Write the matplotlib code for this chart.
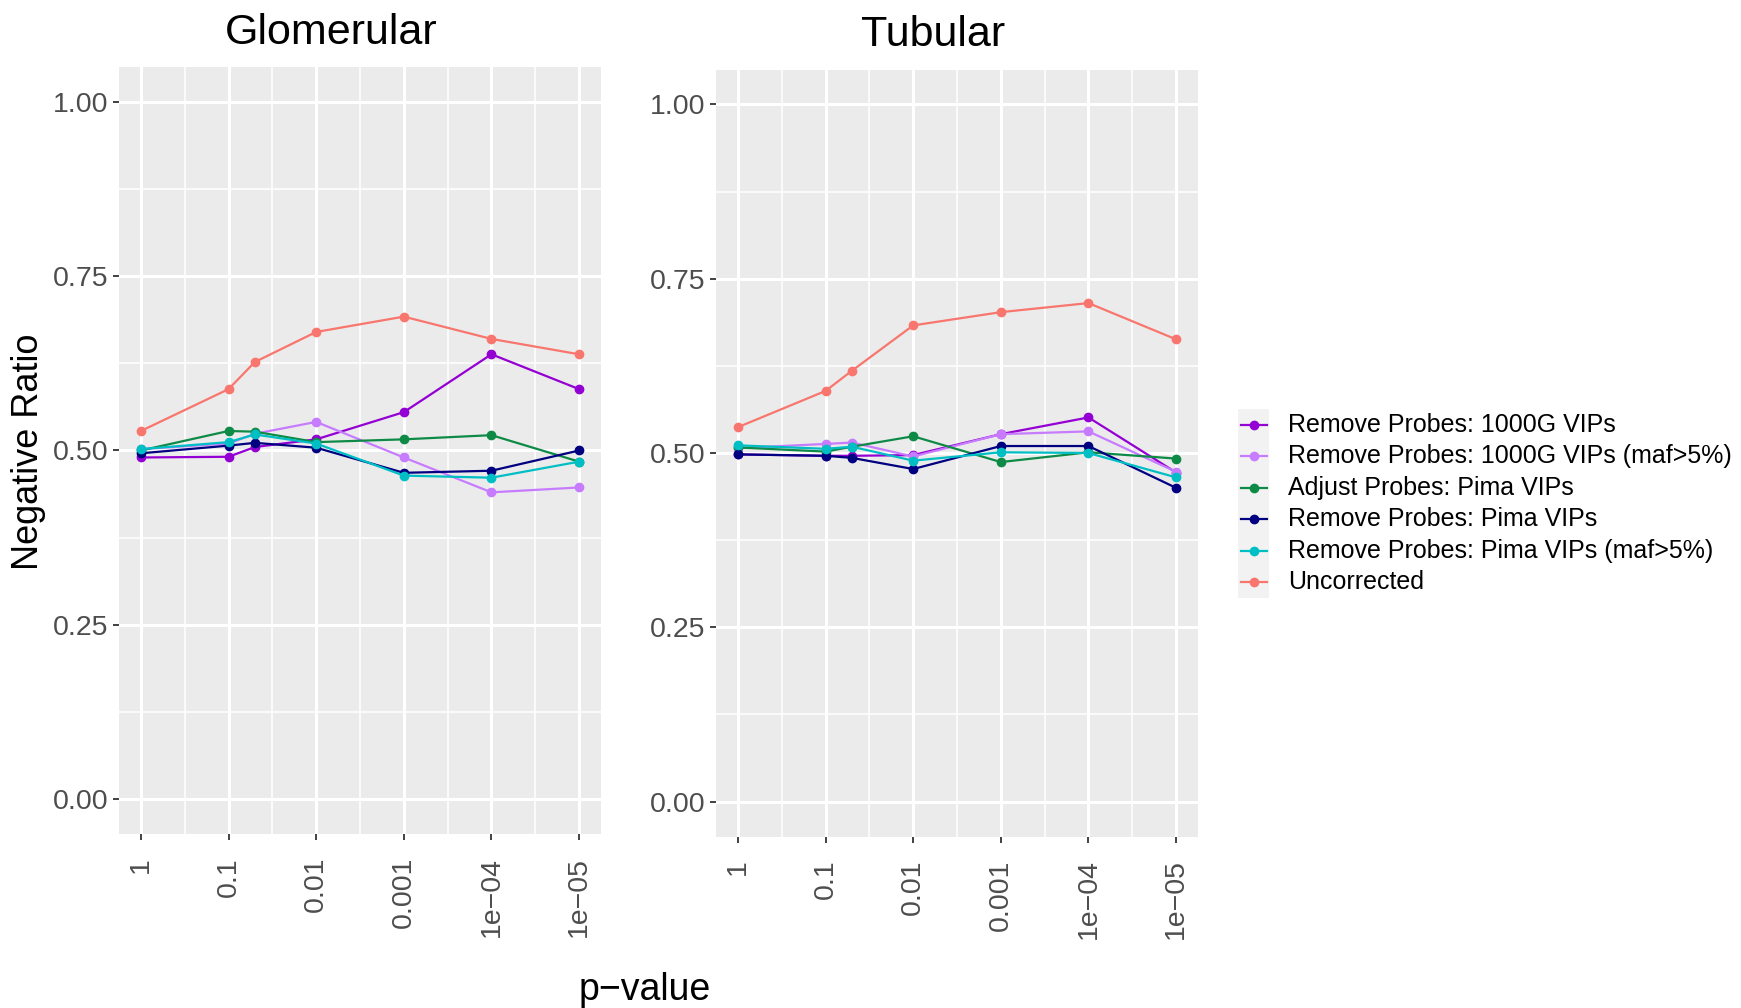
import matplotlib
matplotlib.use("Agg")
import matplotlib.pyplot as plt
from matplotlib.lines import Line2D
from matplotlib.patches import Rectangle
import numpy as np

plt.rcParams['font.family'] = ['Liberation Sans', 'DejaVu Sans']

# p-value thresholds (x axis)
pvals = [1, 0.1, 0.05, 0.01, 0.001, 1e-4, 1e-5]
xtick_vals = [1, 0.1, 0.01, 0.001, 1e-4, 1e-5]
xtick_labels = ["1", "0.1", "0.01", "0.001", "1e\u221204", "1e\u221205"]

methods = ["Remove Probes: 1000G VIPs",
           "Remove Probes: 1000G VIPs (maf>5%)",
           "Adjust Probes: Pima VIPs",
           "Remove Probes: Pima VIPs",
           "Remove Probes: Pima VIPs (maf>5%)",
           "Uncorrected"]
colors = ["#9400D3", "#C77CFF", "#0E8A47", "#000080", "#00BFC4", "#F8766D"]

# negative ratio per method, glomerular
glom_1000g = [0.490, 0.491, 0.505, 0.516, 0.555, 0.638, 0.588]
glom_1000g_maf = [0.502, 0.510, 0.524, 0.541, 0.490, 0.440, 0.447]
glom_adjust = [0.500, 0.528, 0.527, 0.512, 0.516, 0.522, 0.484]
glom_pima = [0.496, 0.507, 0.511, 0.504, 0.468, 0.471, 0.500]
glom_pima_maf = [0.502, 0.512, 0.523, 0.510, 0.464, 0.461, 0.484]
glom_uncorr = [0.528, 0.588, 0.627, 0.670, 0.692, 0.660, 0.638]

# negative ratio per method, tubular
tub_1000g = [0.498, 0.496, 0.496, 0.497, 0.527, 0.551, 0.472]
tub_1000g_maf = [0.507, 0.513, 0.515, 0.495, 0.527, 0.531, 0.473]
tub_adjust = [0.508, 0.502, 0.509, 0.524, 0.487, 0.501, 0.492]
tub_pima = [0.498, 0.496, 0.493, 0.477, 0.510, 0.510, 0.450]
tub_pima_maf = [0.511, 0.506, 0.509, 0.489, 0.501, 0.500, 0.465]
tub_uncorr = [0.537, 0.589, 0.618, 0.683, 0.702, 0.715, 0.663]

glom = [glom_1000g, glom_1000g_maf, glom_adjust, glom_pima, glom_pima_maf, glom_uncorr]
tub = [tub_1000g, tub_1000g_maf, tub_adjust, tub_pima, tub_pima_maf, tub_uncorr]

W, H = 1741, 1008
fig = plt.figure(figsize=(W / 100, H / 100), dpi=100)


def px_axes(x0, x1, ytop, ybot):
    return fig.add_axes([x0 / W, 1 - ybot / H, (x1 - x0) / W, (ybot - ytop) / H])


def style_panel(ax):
    ax.set_facecolor("#EBEBEB")
    for s in ax.spines.values():
        s.set_visible(False)
    ax.set_xscale("log")
    ax.set_xlim(10 ** 0.25, 10 ** -5.25)
    ax.set_ylim(-0.05, 1.05)
    ax.set_xticks(xtick_vals)
    ax.set_xticklabels(xtick_labels, rotation=90, va="top", ha="center")
    ax.set_xticks([10 ** (-k - 0.5) for k in range(5)], minor=True)
    ax.xaxis.set_minor_formatter(matplotlib.ticker.NullFormatter())
    ax.set_yticks([0, 0.25, 0.5, 0.75, 1.0])
    ax.set_yticklabels(["0.00", "0.25", "0.50", "0.75", "1.00"])
    ax.set_yticks([0.125, 0.375, 0.625, 0.875], minor=True)
    ax.grid(which="major", color="white", lw=2.2)
    ax.grid(which="minor", color="white", lw=1.1)
    ax.set_axisbelow(True)
    ax.tick_params(which="major", length=4.5, width=1.3, color="#333333",
                   labelsize=20.5, labelcolor="#4D4D4D")
    ax.tick_params(axis="x", which="major", pad=12)
    ax.tick_params(axis="y", which="major", pad=3)
    ax.tick_params(which="minor", length=0)


def draw_series(ax, data):
    for vals, c in zip(data, colors):
        ax.plot(pvals, vals, color=c, lw=1.6, marker="o", ms=6, mec=c, mfc=c)


ax1 = px_axes(119, 601, 67, 834)
ax2 = px_axes(716, 1198, 69.5, 836.5)
for ax, data in [(ax1, glom), (ax2, tub)]:
    style_panel(ax)
    draw_series(ax, data)

fig.text(331 / W, 1 - 33 / H, "Glomerular", ha="center", va="center", fontsize=31)
fig.text(933 / W, 1 - 35 / H, "Tubular", ha="center", va="center", fontsize=31)
fig.text(29 / W, 1 - 452 / H, "Negative Ratio", rotation=90, ha="center",
         va="center", fontsize=26)
fig.text(645 / W, 1 - 990 / H, "p\u2212value", ha="center", va="center", fontsize=27)

# legend: grey key strip with line+point keys
row_h = 31.5
top = 409
fig.add_artist(Rectangle((1238 / W, 1 - (top + 6 * row_h) / H), 31 / W, 6 * row_h / H,
                         transform=fig.transFigure, facecolor="#F2F2F2", edgecolor="none"))
for i, (name, c) in enumerate(zip(methods, colors)):
    yc = 1 - (top + row_h * (i + 0.5)) / H
    fig.add_artist(Line2D([1241 / W, 1267 / W], [yc, yc], transform=fig.transFigure,
                          color=c, lw=1.6))
    fig.add_artist(Line2D([1254 / W], [yc], transform=fig.transFigure, color=c,
                          marker="o", ms=6))
    fig.text(1288 / W, yc, name, ha="left", va="center", fontsize=18)

fig.savefig("out.png", dpi=100)
